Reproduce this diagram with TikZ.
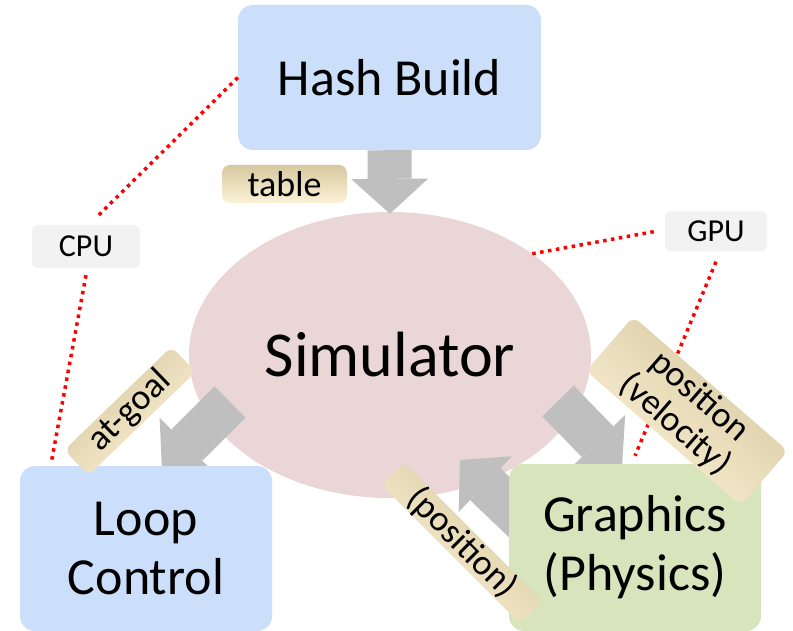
\documentclass[tikz,border=0pt]{standalone}
\usepackage{fontspec}
\setmainfont{Carlito}
\usetikzlibrary{shapes.geometric, arrows.meta, positioning, calc, backgrounds}

\definecolor{unitblue}{RGB}{203,223,251}
\definecolor{simpink}{RGB}{234,214,214}
\definecolor{gfxgreen}{RGB}{216,228,188}
\definecolor{flowgray}{RGB}{191,191,191}
\definecolor{devgray}{RGB}{242,242,242}
\definecolor{tandark}{RGB}{214,200,158}
\definecolor{tanlight}{RGB}{252,242,216}

\begin{document}
\begin{tikzpicture}[x=1pt, y=-1pt,
   unit/.style={rectangle, rounded corners=15pt, fill=unitblue, align=center, inner sep=0pt, font=\fontsize{52}{59}\selectfont},
   simbody/.style={ellipse, fill=simpink, inner sep=0pt, minimum width=402pt, minimum height=286pt, font=\fontsize{64}{70}\selectfont},
   devtag/.style={rectangle, rounded corners=6pt, fill=devgray, inner sep=0pt, font=\fontsize{32}{34}\selectfont},
   datatag/.style={rectangle, rounded corners=8pt, top color=tandark, bottom color=tanlight, inner sep=0pt, align=center, font=\fontsize{36}{37}\selectfont},
   flow/.style={draw=flowgray, line width=44pt, -{Triangle[length=35pt, width=77pt, line width=0pt]}},
   bind/.style={red, line width=3.5pt, dash pattern=on 3.5pt off 4.5pt}
]
   \useasboundingbox (0,0) rectangle (793,631);

   % Units
   \node[unit, minimum width=303pt, minimum height=145pt] (hash) at (389.5,77.5) {Hash Build};
   \node[unit, minimum width=252pt, minimum height=165pt] (loop) at (146,548.5) {Loop\\Control};
   \node[unit, fill=gfxgreen, minimum width=252pt, minimum height=167pt] (gfx) at (635,547.5) {Graphics\\(Physics)};

   % Simulator and data flows
   \begin{scope}[on background layer]
      \node[simbody] (sim) at (390,355) {Simulator};
      \draw[flow] (hash.south) -- ([yshift=-2pt]sim.north);
      \draw[flow] ([shift={(-160,47)}]sim.center) -- ([shift={(16,4)}]loop.north);
      \draw[flow] ([shift={(168,46)}]sim.center) -- ([shift={(-13,3)}]gfx.north);
      \draw[flow] ([shift={(20,62)}]gfx.north west) -- ([shift={(70,105)}]sim.center);
   \end{scope}

   % Devices
   \node[devtag, minimum width=108pt, minimum height=43pt] (cpu) at (86,246.5) {CPU};
   \node[devtag, minimum width=102pt, minimum height=40pt] (gpu) at (716,231.5) {GPU};

   \draw[bind] (hash.west) -- ([xshift=10pt, yshift=7pt]cpu.north);
   \draw[bind] ([yshift=-7pt]cpu.south) -- ([xshift=32pt, yshift=6pt]loop.north west);
   \draw[bind] (sim.north east) -- ([xshift=-10pt]gpu.west);
   \draw[bind] ([yshift=-10pt]gpu.south) -- ([yshift=8pt]gfx.north);

   % Data labels
   \node[datatag, minimum width=125pt, minimum height=38pt] (table) at (284.5,184) {table};
   \node[datatag, shading angle=44, minimum width=149pt, minimum height=35pt, rotate=44] (atgoal) at (130,411) {at-goal};
   \node[datatag, shading angle=-41, minimum width=205pt, minimum height=72pt, rotate=-41] (posvel) at (687,411) {position\\(velocity)};
   \node[datatag, shading angle=-45, minimum width=197pt, minimum height=30pt, rotate=-45] (pos) at (462,543) {(position)};
\end{tikzpicture}
\end{document}
